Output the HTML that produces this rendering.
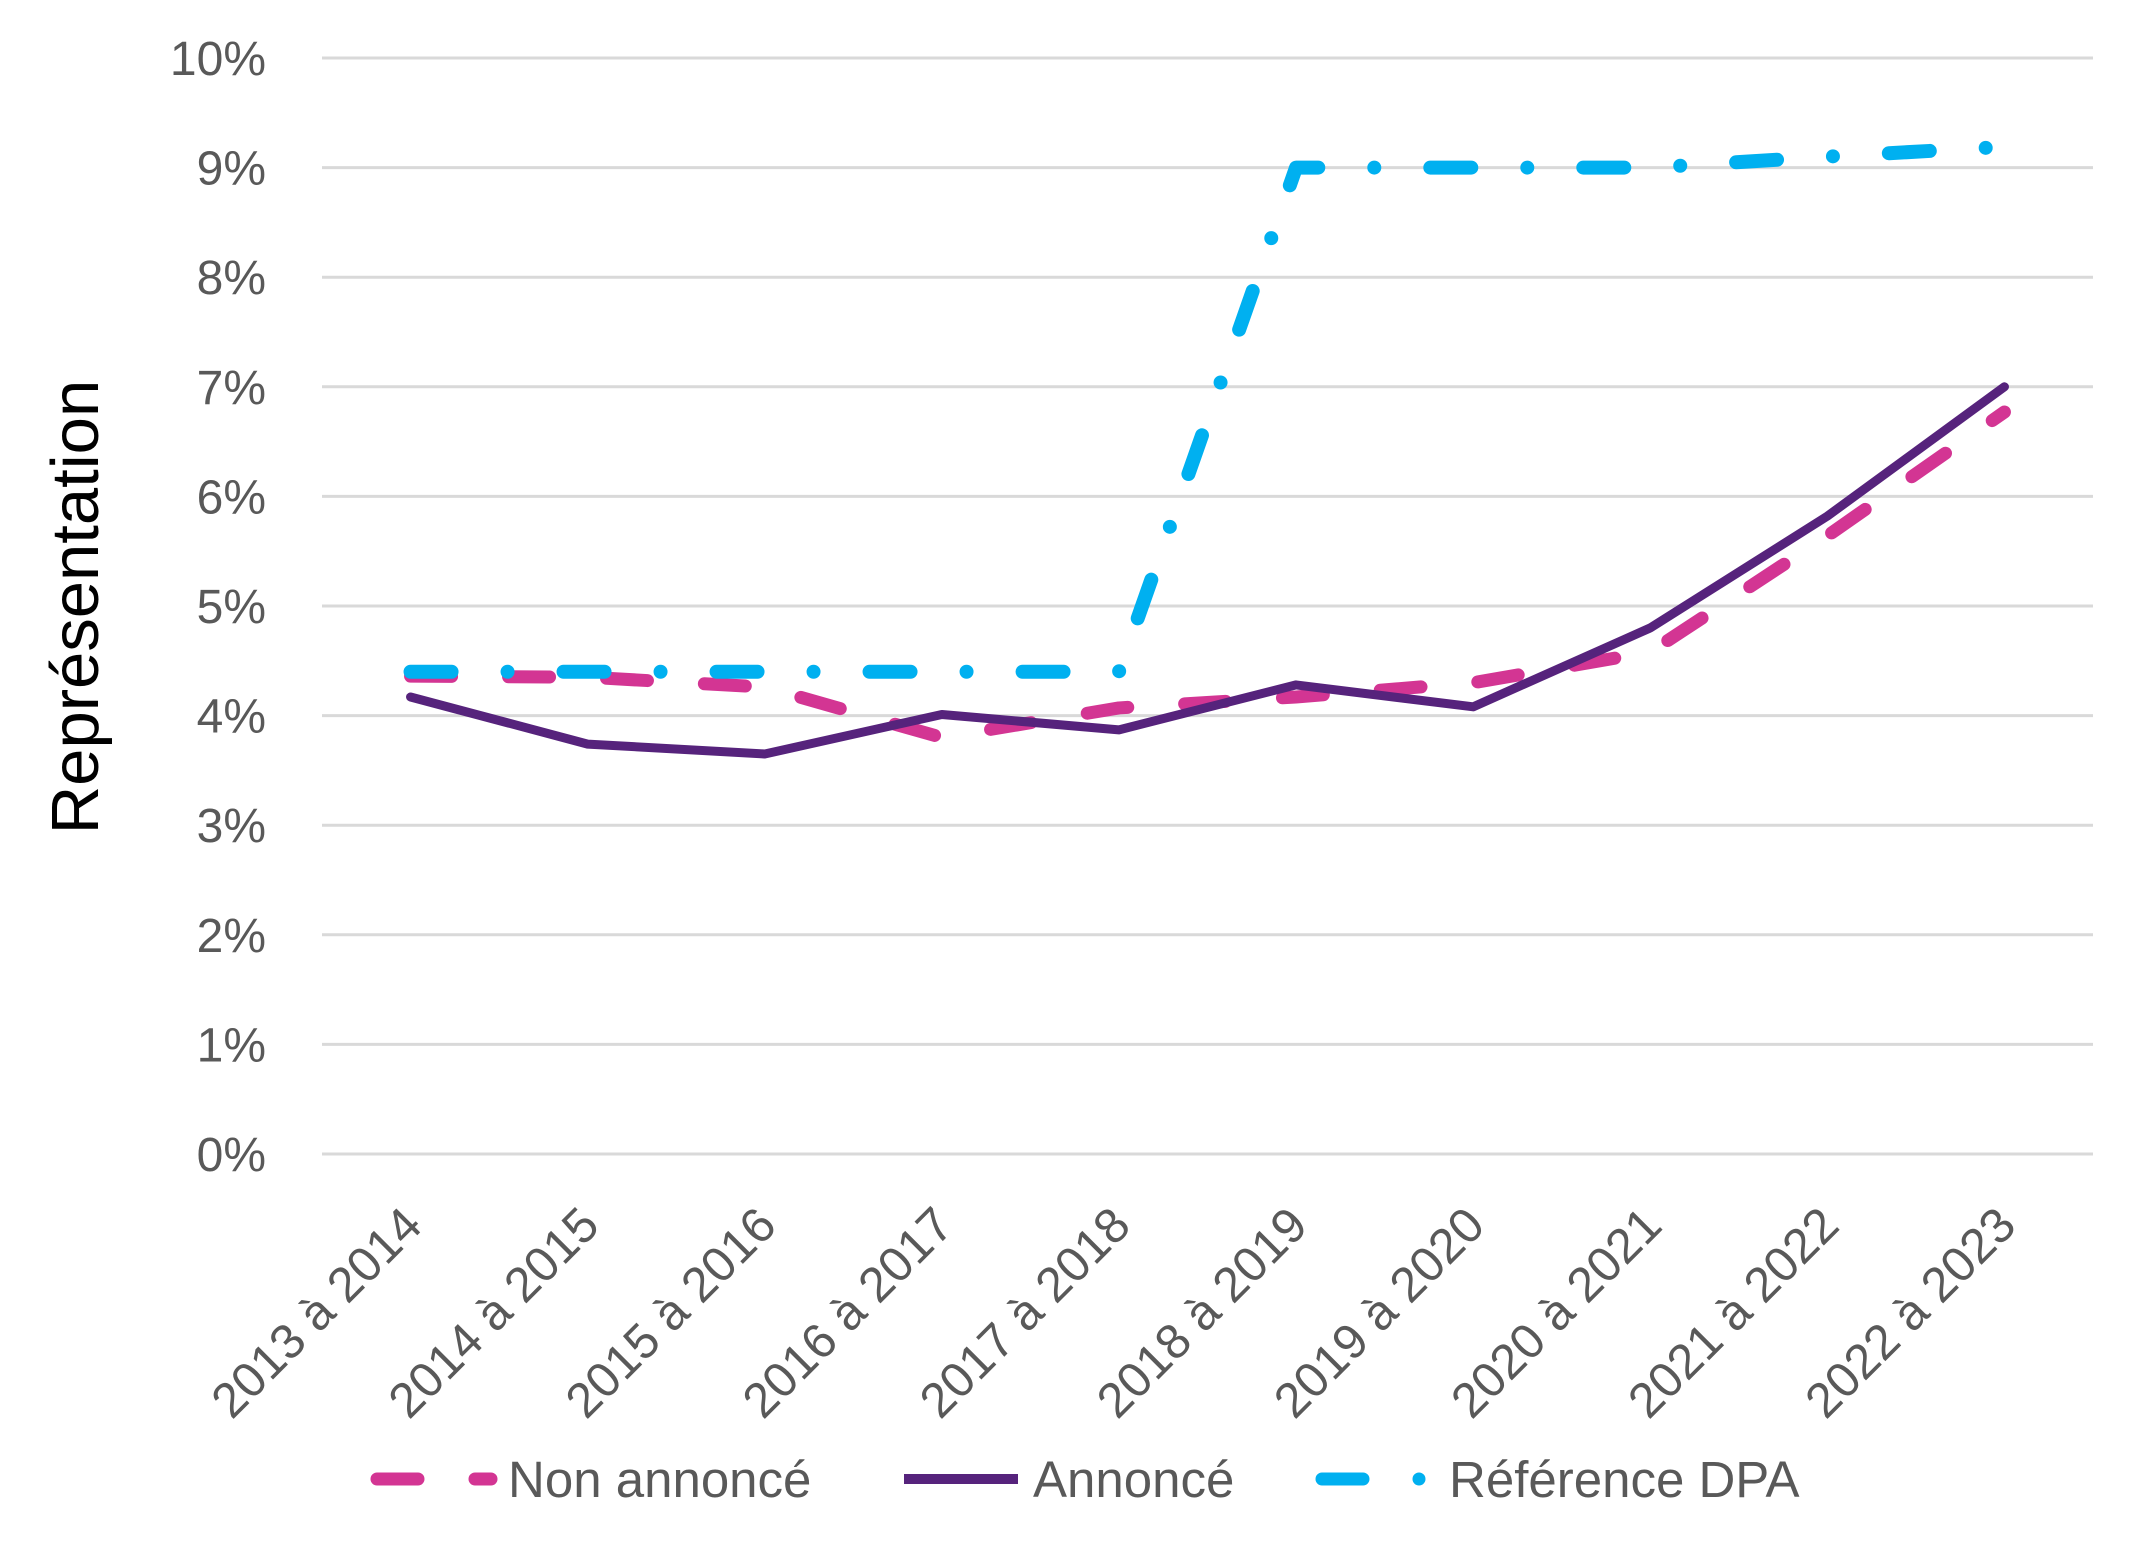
<!DOCTYPE html>
<html><head><meta charset="utf-8"><style>
html,body{margin:0;padding:0;background:#fff;}
svg{display:block;font-family:"Liberation Sans",sans-serif;}
</style></head><body>
<svg id="chart" width="2145" height="1556" viewBox="0 0 2145 1556">
<g id="grid"></g>
<g id="yticks"></g>
<g id="xticks"></g>
<g id="series"></g>
<text x="0" y="0" transform="translate(98,607) rotate(-90)" text-anchor="middle" font-size="67" fill="#000">Représentation</text>
<g>
 <g>
  <line x1="377" y1="1479" x2="491" y2="1479" stroke="#D33593" stroke-width="13" stroke-linecap="round" stroke-dasharray="41 57"/>
  <text x="508" y="1497" font-size="51" fill="#595959">Non annoncé</text>
 </g>
 <g>
  <line x1="904" y1="1479" x2="1018" y2="1479" stroke="#56237C" stroke-width="10" stroke-linecap="butt"/>
  <text x="1033" y="1497" font-size="51" fill="#595959">Annoncé</text>
 </g>
 <g>
  <line x1="1322" y1="1479" x2="1420" y2="1479" stroke="#00B0F0" stroke-width="13" stroke-linecap="round" stroke-dasharray="41 56 0 56"/>
  <text x="1449" y="1497" font-size="51" fill="#595959">Référence DPA</text>
 </g>
</g>
</svg>
<script>
const categories = ["2013 à 2014","2014 à 2015","2015 à 2016","2016 à 2017","2017 à 2018","2018 à 2019","2019 à 2020","2020 à 2021","2021 à 2022","2022 à 2023"];
const nonAnnonce = [4.36, 4.35, 4.26, 3.80, 4.07, 4.17, 4.30, 4.58, 5.64, 6.77];
const annonce = [4.17, 3.74, 3.65, 4.01, 3.87, 4.28, 4.08, 4.80, 5.82, 7.00];
const referenceDPA = [4.40, 4.40, 4.40, 4.40, 4.40, 9.00, 9.00, 9.00, 9.10, 9.19];
const yTicks = [0,1,2,3,4,5,6,7,8,9,10];
const yTickLabels = ["0%","1%","2%","3%","4%","5%","6%","7%","8%","9%","10%"];

const NS = "http://www.w3.org/2000/svg";
const plotL = 322, plotR = 2093, y0 = 1154, yPer = 109.6;
const band = (plotR - plotL) / categories.length;
function xScale(i){ return plotL + band * (i + 0.5); }
function yScale(v){ return y0 - v * yPer; }

const grid = document.getElementById('grid');
const yt = document.getElementById('yticks');
yTicks.forEach((t, i) => {
  const l = document.createElementNS(NS, 'line');
  
  
  l.setAttribute('x1', plotL); l.setAttribute('x2', plotR);
  l.setAttribute('y1', yScale(t)); l.setAttribute('y2', yScale(t));
  l.setAttribute('stroke', '#d9d9d9'); l.setAttribute('stroke-width', '3');
  grid.appendChild(l);
  const tx = document.createElementNS(NS, 'text');
  
  
  tx.setAttribute('x', 266); tx.setAttribute('y', yScale(t) + 17);
  tx.setAttribute('text-anchor', 'end'); tx.setAttribute('font-size', '48');
  tx.setAttribute('fill', '#595959');
  tx.textContent = yTickLabels[i];
  yt.appendChild(tx);
});

const xt = document.getElementById('xticks');
categories.forEach((c, i) => {
  const tx = document.createElementNS(NS, 'text');
  
  
  const x = xScale(i) + 14, y = 1228;
  tx.setAttribute('transform', `translate(${x},${y}) rotate(-45)`);
  tx.setAttribute('text-anchor', 'end'); tx.setAttribute('font-size', '49');
  tx.setAttribute('fill', '#595959');
  tx.textContent = c;
  xt.appendChild(tx);
});

const sg = document.getElementById('series');
function drawLine(vals, name, color, width, dash, cap){
  const p = document.createElementNS(NS, 'polyline');
  
  
  p.setAttribute('points', vals.map((v, i) => xScale(i) + ',' + yScale(v)).join(' '));
  p.setAttribute('fill', 'none');
  p.setAttribute('stroke', color);
  p.setAttribute('stroke-width', width);
  p.setAttribute('stroke-linecap', cap);
  p.setAttribute('stroke-linejoin', 'round');
  if (dash) p.setAttribute('stroke-dasharray', dash);
  sg.appendChild(p);
}
drawLine(nonAnnonce, 'series-non-annonce', '#D33593', 13, '41 57', 'round');
drawLine(annonce, 'series-annonce', '#56237C', 9, null, 'round');
drawLine(referenceDPA, 'series-reference-dpa', '#00B0F0', 14, '41 56 0 56', 'round');
</script>
</body></html>
